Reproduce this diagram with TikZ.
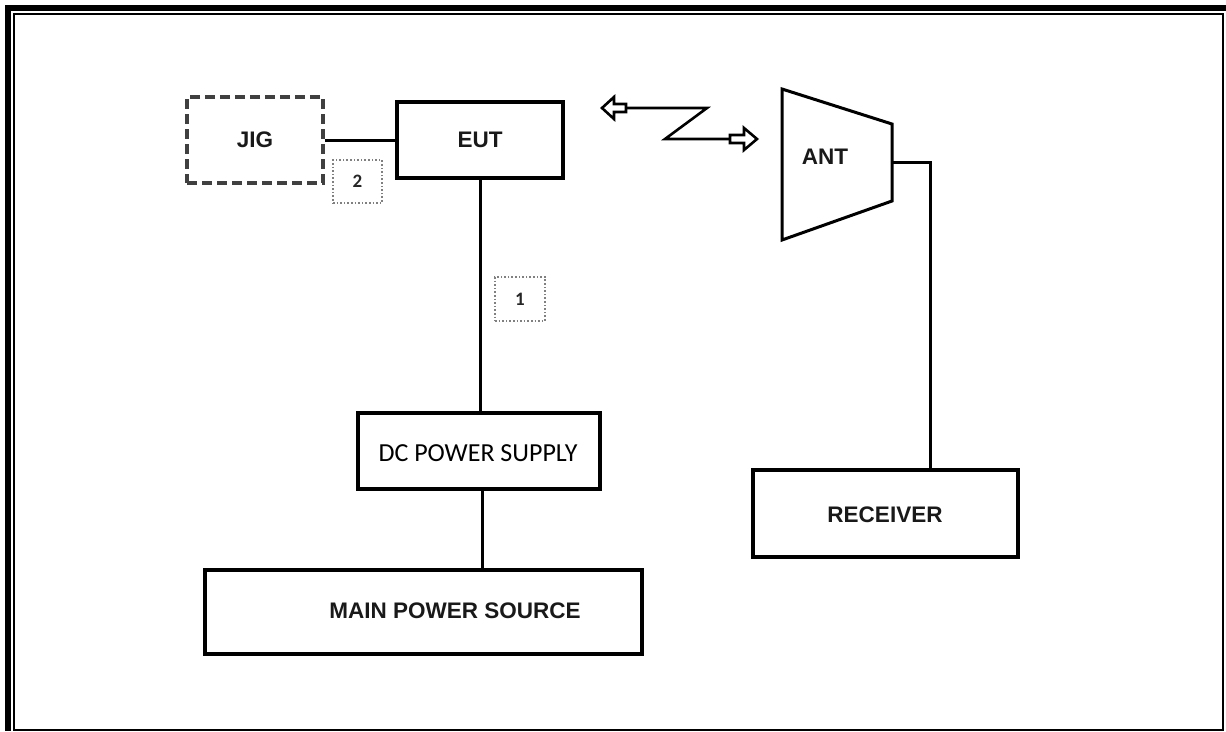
\documentclass[tikz,border=0pt]{standalone}
\usepackage{fontspec}
\setmainfont{Liberation Sans}
\newfontfamily\calfont{Carlito}
\begin{document}
\begin{tikzpicture}[x=1pt,y=-1pt,
  box/.style={draw=black,line width=3.2pt,inner sep=0pt},
  lbl/.style={font=\fontsize{22.5}{24}\selectfont\bfseries,text=black!90,inner sep=0pt},
  dlbl/.style={font=\calfont\fontsize{26}{28}\selectfont,inner sep=0pt},
  numbox/.style={draw=black!50,dotted,line width=1.6pt,minimum width=49pt,minimum height=43pt,inner sep=0pt,font=\calfont\bfseries\fontsize{19}{20}\selectfont,text=black!85},
  wire/.style={line width=3pt,draw=black},
  harrow/.style={draw=black,line width=2.6pt,fill=white,line join=miter}
]
\useasboundingbox (0,0) rectangle (1226,731);
% frame
\fill[black] (5,5) rectangle (1226,11);
\fill[black] (5,5) rectangle (11,731);
\draw[line width=2pt] (14,14) rectangle (1222.5,730);

% boxes
\node[box,draw=black!75,dashed,dash pattern=on 10pt off 5pt,minimum width=136pt,minimum height=86pt] (jig) at (255,140) {};
\node[lbl] at (jig.center) {JIG};
\node[box,minimum width=166pt,minimum height=76pt] (eut) at (480,140) {};
\node[lbl] at (eut.center) {EUT};
\node[box,minimum width=242pt,minimum height=76pt] (dc) at (479,451) {};
\node[dlbl] at (478,453) {DC POWER SUPPLY};
\node[box,minimum width=437pt,minimum height=84pt] (msrc) at (423.5,612) {};
\node[lbl] at (455,611) {MAIN POWER SOURCE};
\node[box,minimum width=265pt,minimum height=87pt] (rec) at (885.5,513.5) {};
\node[lbl] at (885,515) {RECEIVER};

% antenna trapezoid
\coordinate (a1) at (782,89);
\coordinate (a2) at (892,124);
\coordinate (a3) at (892,201);
\coordinate (a4) at (782,240);
\draw[line width=3pt,line join=miter] (a1) -- (a2) -- (a3) -- (a4) -- cycle;
\node[lbl] (ant) at (825,157) {ANT};
\coordinate (antR) at (892,162);
\coordinate (recT) at (930,470);

% number boxes
\node[numbox] (n2) at (357.5,181.5) {2};
\node[numbox,minimum width=50pt,minimum height=44pt] (n1) at (520,299) {1};

% connectors
\draw[wire] (jig.east) -- (eut.west);
\draw[wire] (eut.south) -- (dc.north -| eut.south);
\draw[wire] ([xshift=3pt]dc.south) -- ([xshift=3pt]msrc.north -| dc.south);
\draw[wire] (antR) -| (recT);

% zigzag link
\coordinate (zl) at (626,108);
\coordinate (z1) at (707,108);
\coordinate (z2) at (665,139);
\coordinate (zr) at (730,139);
\draw[line width=2.6pt,line join=miter] (zl) -- (z1) -- (z2) -- (zr);
\draw[harrow] (626,104) -- (614,104) -- (614,97) -- (602,108) -- (614,119) -- (614,112) -- (626,112) -- cycle;
\draw[harrow] (730,135) -- (744,135) -- (744,128) -- (757,139) -- (744,150) -- (744,143) -- (730,143) -- cycle;
\end{tikzpicture}
\end{document}
